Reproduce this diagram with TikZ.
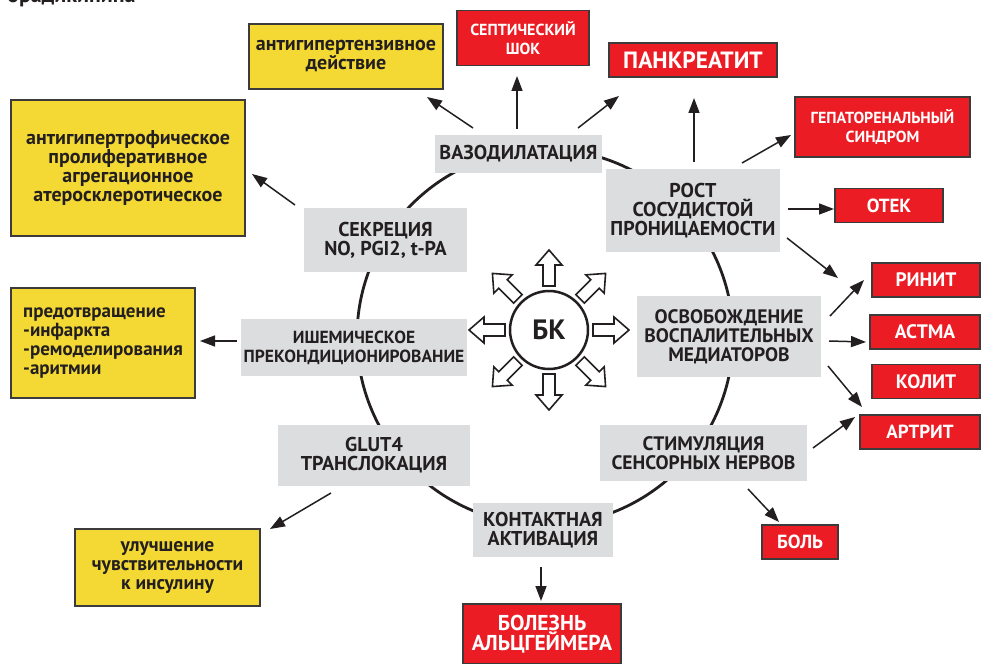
\documentclass[tikz,border=0pt]{standalone}
\usepackage{fontspec}
\setmainfont{PT Sans}
\usetikzlibrary{arrows.meta,calc}
\definecolor{boxgray}{HTML}{DCDDDE}
\definecolor{ylw}{HTML}{F4D935}
\definecolor{rd}{HTML}{EC1C24}
\definecolor{ink}{HTML}{231F20}
\definecolor{edge}{HTML}{3C3A3A}
\begin{document}
\begin{tikzpicture}[x=1pt,y=-1pt,
 gbox/.style={fill=boxgray, draw=none, inner sep=0pt, align=center, text=ink, font=\bfseries\fontsize{20}{19}\selectfont},
 ybox/.style={fill=ylw, draw=edge, line width=1.3pt, inner sep=0pt, align=center, text=ink, font=\bfseries\fontsize{19.5}{19}\selectfont},
 rbox/.style={fill=rd, draw=edge, line width=1.3pt, inner sep=0pt, align=center, text=white, font=\bfseries\fontsize{19}{19}\selectfont},
 arr/.style={line width=1.5pt, draw=ink, -{Triangle[length=15pt,width=11pt]}},
 hollow/.style={draw=ink, line width=1.6pt, fill=white, line join=miter}]

\useasboundingbox (0,0) rectangle (981,663);

% partial title at the top edge (cut off in the reference as well)
\node[anchor=base west, inner sep=0pt, text=ink, font=\bfseries\fontsize{22}{22}\selectfont] (title) at (7,3) {брадикинина};

% ring
\draw[line width=2.8pt, ink] (545,337) circle[radius=188pt];

% central node
\node[circle, draw=ink, line width=2.5pt, minimum size=78pt, inner sep=0pt, fill=white, text=ink, font=\bfseries\fontsize{28}{28}\selectfont] (bk) at (549,330) {БК};
\foreach \a in {0,45,...,315}{
  \draw[hollow, shift={(bk.center)}, rotate=\a] (44,6) -- (65,6) -- (65,13) -- (80,0) -- (65,-13) -- (65,-6) -- (44,-6) -- cycle;
}

% grey process boxes
\node[gbox, minimum width=167pt, minimum height=37pt] (vaso) at (518.5,154) {ВАЗОДИЛАТАЦИЯ};
\node[gbox, minimum width=163pt, minimum height=64pt] (sekr) at (385.5,240) {СЕКРЕЦИЯ\\NO, PGI2, t-PA};
\node[gbox, minimum width=174pt, minimum height=83pt] (rost) at (693,210.5) {РОСТ\\СОСУДИСТОЙ\\ПРОНИЦАЕМОСТИ};
\node[gbox, minimum width=226pt, minimum height=57pt, font=\bfseries\fontsize{17.5}{19}\selectfont] (ishem) at (354,347.5) {ИШЕМИЧЕСКОЕ\\ПРЕКОНДИЦИОНИРОВАНИЕ};
\node[gbox, minimum width=184pt, minimum height=81pt, font=\bfseries\fontsize{19.5}{19}\selectfont] (osvob) at (729,336.5) {ОСВОБОЖДЕНИЕ\\ВОСПАЛИТЕЛЬНЫХ\\МЕДИАТОРОВ};
\node[gbox, minimum width=192pt, minimum height=61pt] (glut) at (374,455.5) {GLUT4\\ТРАНСЛОКАЦИЯ};
\node[gbox, minimum width=207pt, minimum height=56pt, font=\bfseries\fontsize{19.5}{19}\selectfont] (stim) at (703.5,453) {СТИМУЛЯЦИЯ\\СЕНСОРНЫХ НЕРВОВ};
\node[gbox, minimum width=140pt, minimum height=54pt] (kont) at (543,530) {КОНТАКТНАЯ\\АКТИВАЦИЯ};

% yellow outcome boxes
\node[ybox, minimum width=194pt, minimum height=65pt, font=\bfseries\fontsize{20}{19}\selectfont] (ya) at (346,56.5) {антигипертензивное\\действие};
\node[ybox, minimum width=234pt, minimum height=136pt, font=\bfseries\fontsize{20}{19}\selectfont] (yb) at (128,168) {антигипертрофическое\\пролиферативное\\агрегационное\\атеросклеротическое};
\node[ybox, minimum width=184pt, minimum height=110pt, align=left, font=\bfseries\fontsize{19}{19}\selectfont] (yc) at (103,343) {предотвращение\\-инфаркта\\-ремоделирования\\-аритмии};
\node[ybox, minimum width=185pt, minimum height=77pt] (yd) at (167.5,567.5) {улучшение\\чувствительности\\к инсулину};

% red outcome boxes
\node[rbox, minimum width=132pt, minimum height=55pt, font=\bfseries\fontsize{16}{19}\selectfont] (sept) at (523,38) {СЕПТИЧЕСКИЙ\\ШОК};
\node[rbox, minimum width=168pt, minimum height=34pt, font=\bfseries\fontsize{23.5}{23.5}\selectfont] (pank) at (693,60) {ПАНКРЕАТИТ};
\node[rbox, minimum width=175pt, minimum height=60pt, font=\bfseries\fontsize{16}{19}\selectfont] (gep) at (882.5,127) {ГЕПАТОРЕНАЛЬНЫЙ\\СИНДРОМ};
\node[rbox, minimum width=108pt, minimum height=34pt] (otek) at (889,205.5) {ОТЕК};
\node[rbox, minimum width=108pt, minimum height=34pt, font=\bfseries\fontsize{19.5}{19}\selectfont] (rinit) at (926,280) {РИНИТ};
\node[rbox, minimum width=110pt, minimum height=34pt, font=\bfseries\fontsize{19.5}{19}\selectfont] (astma) at (925,332) {АСТМА};
\node[rbox, minimum width=108pt, minimum height=34pt, font=\bfseries\fontsize{19.5}{19}\selectfont] (kolit) at (926,381.5) {КОЛИТ};
\node[rbox, minimum width=120pt, minimum height=34pt] (artrit) at (920,432) {АРТРИТ};
\node[rbox, minimum width=76pt, minimum height=34pt] (bol) at (800,542) {БОЛЬ};
\node[rbox, minimum width=158pt, minimum height=60pt, font=\bfseries\fontsize{21.5}{20.5}\selectfont] (alz) at (542,634) {БОЛЕЗНЬ\\АЛЬЦГЕЙМЕРА};

% arrow end points
\coordinate (a1s) at (473,128);  \coordinate (a1e) at (427,97);
\coordinate (a2s) at (517,129);  \coordinate (a2e) at (517,76);
\coordinate (a3s) at (578,128);  \coordinate (a3e) at (619,96);
\coordinate (a4s) at (694,162);  \coordinate (a4e) at (694,98);
\coordinate (a5s) at (742,163);  \coordinate (a5e) at (791,135);
\coordinate (a6s) at (788,209);  \coordinate (a6e) at (834,209);
\coordinate (a7s) at (787,238);  \coordinate (a7e) at (838,278);
\coordinate (a8s) at (830,316);  \coordinate (a8e) at (864,280);
\coordinate (a9s) at (829,341);  \coordinate (a9e) at (866,342);
\coordinate (a10s) at (828,366); \coordinate (a10e) at (862,407);
\coordinate (a11s) at (813,448); \coordinate (a11e) at (855,417);
\coordinate (a12s) at (748,489); \coordinate (a12e) at (779,522);
\coordinate (a13s) at (541,567); \coordinate (a13e) at (541,601);
\coordinate (a14s) at (331,493); \coordinate (a14e) at (270,529);
\coordinate (a15s) at (237,341); \coordinate (a15e) at (200,341);
\coordinate (a16s) at (295,205); \coordinate (a16e) at (252,174);

\foreach \i in {1,...,16}{ \draw[arr] (a\i s) -- (a\i e); }
\end{tikzpicture}
\end{document}
